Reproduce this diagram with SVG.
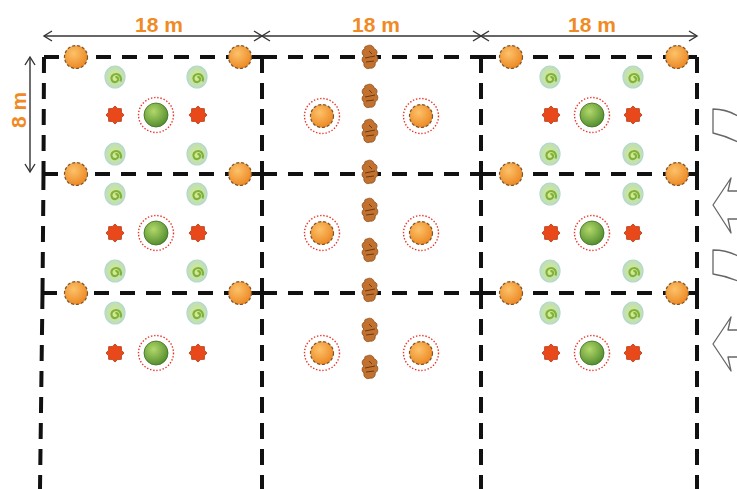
<svg xmlns="http://www.w3.org/2000/svg" width="737" height="489" viewBox="0 0 737 489">
  <style>
    .hgrid { fill: none; stroke: #111; stroke-width: 4; stroke-dasharray: 15 11; }
    .vgrid { fill: none; stroke: #111; stroke-width: 4; stroke-dasharray: 16 10; }
    .dim { fill: none; stroke: #333; stroke-width: 1.4; }
    .lbl { font-family: "Liberation Sans", Arial, sans-serif; font-weight: bold; font-size: 21px; fill: #f08a24; text-anchor: middle; }
    .wind { fill: #fff; stroke: #666; stroke-width: 1.3; stroke-linejoin: round; }
  </style>
  <defs>
    <radialGradient id="gOrange" cx="0.4" cy="0.35" r="0.7">
      <stop offset="0" stop-color="#fcc26a"/>
      <stop offset="1" stop-color="#ec8520"/>
    </radialGradient>
    <radialGradient id="gBall" cx="0.4" cy="0.35" r="0.7">
      <stop offset="0" stop-color="#b2d86a"/>
      <stop offset="1" stop-color="#4f8a2c"/>
    </radialGradient>
    <radialGradient id="gSpiral" cx="0.5" cy="0.5" r="0.6">
      <stop offset="0" stop-color="#d8ea8a"/>
      <stop offset="1" stop-color="#b8dcc4"/>
    </radialGradient>
    <marker id="chev" viewBox="-10 -6 12 12" refX="0" refY="0" markerWidth="12" markerHeight="12" markerUnits="userSpaceOnUse" orient="auto-start-reverse">
      <path d="M-8,-5 L0,0 L-8,5" fill="none" stroke="#333" stroke-width="1.4"/>
    </marker>
    <!-- orange fruit tree -->
    <g id="orange">
      <circle r="11.5" fill="url(#gOrange)" stroke="#7a5630" stroke-width="1.2" stroke-dasharray="3 2"/>
    </g>
    <!-- spiral vegetable -->
    <g id="spiral">
      <ellipse rx="10" ry="11" fill="url(#gSpiral)" stroke="#b4d8cc" stroke-width="1.2"/>
      <path d="M0.5,0.5 c1.5,-1 3,0.5 2.5,2.5 c-0.8,2.6 -4.5,3 -6,0.5 c-1.8,-3 0.5,-6.5 4,-6.5 c4,0 6,4 4.5,7.5" fill="none" stroke="#7fb23a" stroke-width="2.2"/>
    </g>
    <!-- red spiky plant -->
    <g id="star">
      <polygon points="9,0 6.47,2.68 6.36,6.36 2.68,6.47 0,9 -2.68,6.47 -6.36,6.36 -6.47,2.68 -9,0 -6.47,-2.68 -6.36,-6.36 -2.68,-6.47 0,-9 2.68,-6.47 6.36,-6.36 6.47,-2.68" fill="#e8481a" stroke="#b53a12" stroke-width="0.8" stroke-linejoin="round"/>
    </g>
    <!-- green central tree -->
    <g id="ball">
      <circle r="12" fill="url(#gBall)" stroke="#3f6d22" stroke-width="0.8"/>
    </g>
    <!-- dotted ring -->
    <circle id="ring" r="17.5" fill="none" stroke="#e8352a" stroke-width="1.4" stroke-dasharray="1.4 1.8"/>
    <!-- brown shrub -->
    <g id="shrub">
      <path d="M-3,-11 C0,-13 4,-11 4,-8 C7,-8 8,-4 6,-2 C9,0 8,5 5,6 C6,9 3,12 0,11 C-3,13 -7,10 -6,6 C-9,4 -8,0 -6,-1 C-9,-3 -8,-8 -5,-8 C-6,-10 -5,-11 -3,-11 Z" fill="#c2722e" stroke="#8a4a1a" stroke-width="0.8"/>
      <path d="M-5,1 L5,-1 M-4,5 L4,4 M-1,-6 L2,-3" fill="none" stroke="#6b3a14" stroke-width="1"/>
    </g>
  </defs>

  <!-- dimension lines -->
  <g id="dimensions">
    <line class="dim" x1="44" y1="36" x2="262" y2="36" marker-start="url(#chev)" marker-end="url(#chev)"/>
    <line class="dim" x1="262" y1="36" x2="481" y2="36" marker-start="url(#chev)" marker-end="url(#chev)"/>
    <line class="dim" x1="481" y1="36" x2="697" y2="36" marker-start="url(#chev)" marker-end="url(#chev)"/>
    <line class="dim" x1="30" y1="57" x2="30" y2="172" marker-start="url(#chev)" marker-end="url(#chev)"/>
    <text class="lbl" x="159" y="32">18 m</text>
    <text class="lbl" x="376" y="32">18 m</text>
    <text class="lbl" x="592" y="32">18 m</text>
    <text class="lbl" transform="translate(26,110) rotate(-90)">8 m</text>
  </g>

  <!-- plot grid -->
  <g id="grid">
    <path class="hgrid" d="M44,57 H262 M262,57 H481 M481,57 H697"/>
    <path class="hgrid" d="M43,174 H262 M262,174 H481 M481,174 H697"/>
    <path class="hgrid" d="M42,293 H262 M262,293 H481 M481,293 H697"/>
    <path class="vgrid" d="M44,57 L43.5,174 M43.5,174 L42.5,293 M42.5,293 L40,489"/>
    <path class="vgrid" d="M262,57 V174 M262,174 V293 M262,293 V489"/>
    <path class="vgrid" d="M481,57 V174 M481,174 V293 M481,293 V489"/>
    <path class="vgrid" d="M697,57 V174 M697,174 V293 M697,293 V489"/>
  </g>

  <!-- left plot -->
  <g id="plot-left">
    <use href="#orange" x="76" y="57"/><use href="#orange" x="240" y="57"/>
    <use href="#orange" x="76" y="174"/><use href="#orange" x="240" y="174"/>
    <use href="#orange" x="76" y="293"/><use href="#orange" x="240" y="293"/>
    <use href="#spiral" x="115" y="77"/><use href="#spiral" x="197" y="77"/>
    <use href="#spiral" x="115" y="154"/><use href="#spiral" x="197" y="154"/>
    <use href="#spiral" x="115" y="194"/><use href="#spiral" x="197" y="194"/>
    <use href="#spiral" x="115" y="271"/><use href="#spiral" x="197" y="271"/>
    <use href="#spiral" x="115" y="313"/><use href="#spiral" x="197" y="313"/>
    <use href="#star" x="115" y="115"/><use href="#star" x="198" y="115"/>
    <use href="#star" x="115" y="233"/><use href="#star" x="198" y="233"/>
    <use href="#star" x="115" y="353"/><use href="#star" x="198" y="353"/>
    <use href="#ball" x="156" y="115"/><use href="#ring" x="156" y="115"/>
    <use href="#ball" x="156" y="233"/><use href="#ring" x="156" y="233"/>
    <use href="#ball" x="156" y="353"/><use href="#ring" x="156" y="353"/>
  </g>

  <!-- middle plot -->
  <g id="plot-middle">
    <use href="#orange" x="322" y="116"/><use href="#ring" x="322" y="116"/>
    <use href="#orange" x="421" y="116"/><use href="#ring" x="421" y="116"/>
    <use href="#orange" x="322" y="233"/><use href="#ring" x="322" y="233"/>
    <use href="#orange" x="421" y="233"/><use href="#ring" x="421" y="233"/>
    <use href="#orange" x="322" y="353"/><use href="#ring" x="322" y="353"/>
    <use href="#orange" x="421" y="353"/><use href="#ring" x="421" y="353"/>
    <use href="#shrub" x="370" y="57"/>
    <use href="#shrub" x="370" y="96"/>
    <use href="#shrub" x="370" y="131"/>
    <use href="#shrub" x="370" y="172"/>
    <use href="#shrub" x="370" y="210"/>
    <use href="#shrub" x="370" y="250"/>
    <use href="#shrub" x="370" y="290"/>
    <use href="#shrub" x="370" y="330"/>
    <use href="#shrub" x="370" y="367"/>
  </g>

  <!-- right plot -->
  <g id="plot-right">
    <use href="#orange" x="511" y="57"/><use href="#orange" x="677" y="57"/>
    <use href="#orange" x="511" y="174"/><use href="#orange" x="677" y="174"/>
    <use href="#orange" x="511" y="293"/><use href="#orange" x="677" y="293"/>
    <use href="#spiral" x="550" y="77"/><use href="#spiral" x="633" y="77"/>
    <use href="#spiral" x="550" y="154"/><use href="#spiral" x="633" y="154"/>
    <use href="#spiral" x="550" y="194"/><use href="#spiral" x="633" y="194"/>
    <use href="#spiral" x="550" y="271"/><use href="#spiral" x="633" y="271"/>
    <use href="#spiral" x="550" y="313"/><use href="#spiral" x="633" y="313"/>
    <use href="#star" x="551" y="115"/><use href="#star" x="633" y="115"/>
    <use href="#star" x="551" y="233"/><use href="#star" x="633" y="233"/>
    <use href="#star" x="551" y="353"/><use href="#star" x="633" y="353"/>
    <use href="#ball" x="592" y="115"/><use href="#ring" x="592" y="115"/>
    <use href="#ball" x="592" y="233"/><use href="#ring" x="592" y="233"/>
    <use href="#ball" x="592" y="353"/><use href="#ring" x="592" y="353"/>
  </g>

  <!-- wind shapes at the right edge -->
  <g id="wind">
    <path class="wind" d="M713,109 Q726,109 738,116 L738,142 Q726,136 713,133 Z"/>
    <path class="wind" d="M738,191 L728,191 L731,178 L713,205 L731,233 L728,219 L738,219"/>
    <path class="wind" d="M713,250 Q726,250 738,256 L738,281 Q726,276 713,274 Z"/>
    <path class="wind" d="M738,330 L728,330 L731,317 L713,344 L731,371 L728,357 L738,357"/>
  </g>
</svg>
